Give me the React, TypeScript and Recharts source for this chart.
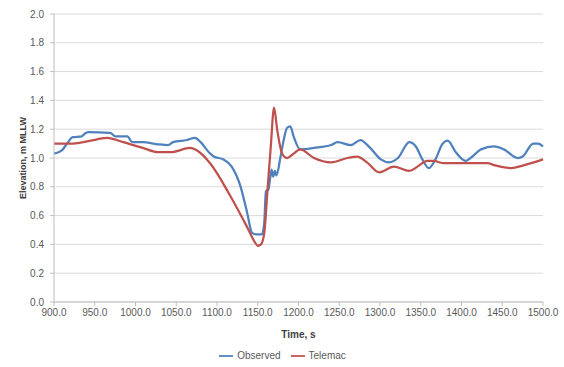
import { LineChart, Line, XAxis, YAxis, CartesianGrid, Legend } from 'recharts'

// Observed gauge record (time in s, elevation in m MLLW)
const obsTime = [
  900, 910, 916, 923, 934, 938, 942, 969, 975, 990, 996, 1009, 1028, 1040, 1046, 1063, 1073, 1080,
  1090, 1096, 1108, 1118, 1129, 1137, 1143, 1148, 1155, 1158, 1160, 1163, 1165, 1167, 1169, 1171,
  1173, 1178, 1182, 1186, 1190, 1194, 1202, 1219, 1240, 1248, 1264, 1276, 1288, 1301, 1311, 1322,
  1336, 1344, 1352, 1360, 1368, 1377, 1383, 1393, 1405, 1411, 1424, 1440, 1452, 1469, 1475, 1488,
  1494, 1500,
]
const obsElev = [
  1.03, 1.055, 1.1, 1.145, 1.15, 1.17, 1.18, 1.175, 1.15, 1.15, 1.11, 1.11, 1.095, 1.09, 1.11, 1.125,
  1.14, 1.11, 1.04, 1.01, 0.99, 0.94, 0.8, 0.62, 0.48, 0.47, 0.47, 0.55, 0.77, 0.78, 0.85, 0.92, 0.87,
  0.91, 0.88, 1.01, 1.13, 1.21, 1.22, 1.15, 1.06, 1.07, 1.09, 1.11, 1.09, 1.125, 1.07, 0.99, 0.97, 1.0,
  1.11, 1.08, 0.99, 0.93, 0.99, 1.1, 1.12, 1.04, 0.98, 1.0, 1.06, 1.08, 1.06, 1.0, 1.01, 1.1, 1.1,
  1.08,
]

// Telemac model output
const telTime = [
  900, 923, 953, 965, 985, 1009, 1028, 1043, 1067, 1076, 1092, 1116, 1137, 1146, 1150, 1154, 1158,
  1162, 1166, 1170, 1174, 1180, 1186, 1194, 1202, 1219, 1240, 1260, 1272, 1284, 1299, 1317, 1336,
  1346, 1358, 1366, 1377, 1432, 1440, 1461, 1477, 1500,
]
const telElev = [
  1.1, 1.1, 1.13, 1.14, 1.11, 1.07, 1.04, 1.04, 1.07, 1.05, 0.96, 0.74, 0.52, 0.42, 0.39, 0.4, 0.48,
  0.78, 1.08, 1.35, 1.19, 1.03, 1.0, 1.03, 1.06, 1.0, 0.97, 1.0, 1.01, 0.97, 0.9, 0.94, 0.91, 0.94,
  0.98, 0.98, 0.965, 0.965, 0.95, 0.93, 0.95, 0.99,
]

const xTicks = [900, 950, 1000, 1050, 1100, 1150, 1200, 1250, 1300, 1350, 1400, 1450, 1500]
const yTicks = [0, 0.2, 0.4, 0.6, 0.8, 1.0, 1.2, 1.4, 1.6, 1.8, 2.0]

const observed = obsTime.map((t, i) => ({ t, v: obsElev[i] }))
const telemac = telTime.map((t, i) => ({ t, v: telElev[i] }))

const font = '"Liberation Sans", Arial, sans-serif'
const tickStyle = { fontSize: 10, fill: '#595959', fontFamily: font }

export default function App() {
  return (
    <div style={{ position: 'absolute', left: 0, top: 0, background: 'white' }}>
      <LineChart width={564} height={367} margin={{ top: 14, right: 21, bottom: 4, left: 0 }}>
        <CartesianGrid vertical={false} stroke="#d9d9d9" />
        <XAxis
          type="number"
          dataKey="t"
          domain={[900, 1500]}
          ticks={xTicks}
          tickFormatter={(v: number) => v.toFixed(1)}
          tick={tickStyle}
          tickSize={4}
          tickMargin={3}
          stroke="#bfbfbf"
          height={47}
          allowDuplicatedCategory={false}
          label={{
            value: 'Time, s',
            position: 'insideBottom',
            offset: 11,
            style: { fontSize: 10, fontWeight: 'bold', fill: '#404040', fontFamily: font },
          }}
        />
        <YAxis
          type="number"
          domain={[0, 2]}
          ticks={yTicks}
          tickFormatter={(v: number) => v.toFixed(1)}
          tick={tickStyle}
          tickSize={4}
          tickMargin={6}
          stroke="#bfbfbf"
          width={54}
          label={{
            value: 'Elevation, m MLLW',
            angle: -90,
            position: 'center',
            dx: -4,
            style: { fontSize: 9, fontWeight: 'bold', fill: '#404040', fontFamily: font },
          }}
        />
        <Legend
          verticalAlign="bottom"
          iconType="plainline"
          iconSize={14}
          wrapperStyle={{ fontSize: 10, fontFamily: font, color: '#595959', paddingLeft: 16 }}
          formatter={(value: string) => <span style={{ color: '#595959' }}>{value}</span>}
        />
        <Line
          data={observed}
          dataKey="v"
          name="Observed"
          type="monotone"
          stroke="#4f81bd"
          strokeWidth={2.25}
          dot={false}
          isAnimationActive={false}
        />
        <Line
          data={telemac}
          dataKey="v"
          name="Telemac"
          type="monotone"
          stroke="#c0504d"
          strokeWidth={2.25}
          dot={false}
          isAnimationActive={false}
        />
      </LineChart>
    </div>
  )
}
